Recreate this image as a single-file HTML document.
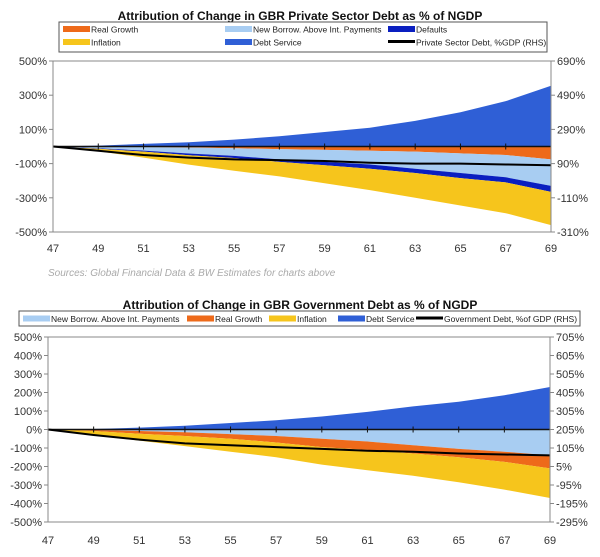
<!DOCTYPE html>
<html><head><meta charset="utf-8"><style>
body{margin:0;background:#fff;width:600px;height:557px;overflow:hidden}
svg{display:block;font-family:"Liberation Sans",Arial,sans-serif}
</style></head><body>
<svg id="s" width="600" height="557" viewBox="0 0 600 557"></svg>
<script>
const years=[47,49,51,53,55,57,59,61,63,65,67,69];
// Private sector chart components (% of NGDP, magnitudes)
const pDebtService=[0,5,15,25,40,60,85,110,150,200,265,355];
const pRealGrowth=[0,2,4,6,10,15,20,25,30,40,50,75];
const pNewBorrow=[0,8,20,35,45,60,70,80,100,115,130,155];
const pDefaults=[0,3,6,10,12,15,20,25,25,30,30,35];
const pInflation=[0,15,35,55,75,85,105,125,145,160,180,195];
const pDebtLine=[190,165,140,125,115,110,105,95,90,90,85,80]; // RHS
const pLeftTicks=[500,300,100,-100,-300,-500];
const pRightTicks=["690%","490%","290%","90%","-110%","-310%"];
// Government chart components
const gDebtService=[0,3,10,20,35,50,70,95,125,150,185,230];
const gNewBorrow=[0,3,8,15,25,35,50,65,85,105,120,140];
const gRealGrowth=[0,5,15,20,25,35,45,45,45,45,55,70];
const gInflation=[0,22,37,55,70,80,95,110,120,135,150,160];
const gDebtLine=[205,175,150,130,120,110,100,90,85,75,70,65]; // RHS
const gLeftTicks=[500,400,300,200,100,0,-100,-200,-300,-400,-500];
const gRightTicks=["705%","605%","505%","405%","305%","205%","105%","5%","-95%","-195%","-295%"];
const xLabels=["47","49","51","53","55","57","59","61","63","65","67","69"];

const svg=document.getElementById('s');
const NS='http://www.w3.org/2000/svg';
function el(tag,a,txt){const e=document.createElementNS(NS,tag);for(const k in a)e.setAttribute(k,a[k]);if(txt!==undefined)e.textContent=txt;svg.appendChild(e);return e;}

function chart(cfg){
  const {L,R,T,B,min,max,off}=cfg;
  const x=i=>L+(years[i]-47)/(69-47)*(R-L);
  const y=v=>T+(max-v)/(max-min)*(B-T);
  el('rect',{x:L,y:T,width:R-L,height:B-T,fill:'#fff'});
  function band(top,bot,color,name){
    let d='M'+x(0)+','+y(top[0]);
    for(let i=1;i<years.length;i++)d+='L'+x(i)+','+y(top[i]);
    for(let i=years.length-1;i>=0;i--)d+='L'+x(i)+','+y(bot[i]);
    const p=el('path',{d:d+'Z',fill:color});
    
    
  }
  let cum=years.map(()=>0);
  band(cfg.pos,cum,'#2f5fd6',cfg.prefix+'debt-service-area');
  cfg.neg.forEach(s=>{
    const next=cum.map((c,i)=>c-s.v[i]);
    band(cum,next,s.c,cfg.prefix+s.n);
    cum=next;
  });
  el('line',{x1:L,y1:y(0),x2:R,y2:y(0),stroke:'#111','stroke-width':1.5});
  for(let i=0;i<years.length;i++)el('line',{x1:x(i),y1:y(0)-3,x2:x(i),y2:y(0)+3,stroke:'#111','stroke-width':1});
  let d='';
  cfg.line.forEach((v,i)=>{d+=(i?'L':'M')+x(i)+','+y(v-off);});
  const ln=el('path',{d:d,fill:'none',stroke:'#000','stroke-width':2});
  
  
  el('line',{x1:L,y1:T,x2:R,y2:T,stroke:'#888'});
  el('line',{x1:L,y1:B,x2:R,y2:B,stroke:'#888'});
  el('line',{x1:L,y1:T,x2:L,y2:B,stroke:'#888'});
  el('line',{x1:R,y1:T,x2:R,y2:B,stroke:'#888'});
  cfg.lt.forEach((v,i)=>{
    const yy=y(v);
    el('line',{x1:L-4,y1:yy,x2:L,y2:yy,stroke:'#888'});
    el('line',{x1:R,y1:yy,x2:R+4,y2:yy,stroke:'#888'});
    const t=el('text',{x:L-6,y:yy+4,'text-anchor':'end','font-size':11,fill:'#333'},v+'%');
    
    
    const r=el('text',{x:R+6,y:yy+4,'font-size':11,fill:'#333'},cfg.rt[i]);
    
    
  });
  xLabels.forEach((s,i)=>{
    const t=el('text',{x:x(i),y:cfg.xl,'text-anchor':'middle','font-size':11,fill:'#333'},s);
    
    
  });
}

// Top chart
let t=el('text',{x:300,y:20,'text-anchor':'middle','font-size':12,'font-weight':'bold',fill:'#111'},'Attribution of Change in GBR Private Sector Debt as % of NGDP');

el('rect',{x:59,y:22,width:417,height:30,fill:'#fff',stroke:'#555'}).setAttribute('width',488);
function leg(x0,y0,c,label,isLine){
  if(isLine)el('rect',{x:x0,y:y0-2,width:27,height:3,fill:c});
  else el('rect',{x:x0,y:y0-3,width:27,height:6,fill:c});
  const tx=el('text',{x:x0+28,y:y0+3.5,'font-size':8.5,fill:'#222'},label);
  
  
}
leg(63,29,'#ee6a1a','Real Growth');
leg(63,42,'#f6c51c','Inflation');
leg(225,29,'#a8cdf2','New Borrow. Above Int. Payments');
leg(225,42,'#2f5fd6','Debt Service');
leg(388,29,'#0a1fc0','Defaults');
leg(388,42,'#000','Private Sector Debt, %GDP (RHS)',true);
chart({L:53,R:551,T:61,B:232,min:-500,max:500,off:190,xl:252,prefix:'private-',
  pos:pDebtService,line:pDebtLine,lt:pLeftTicks,rt:pRightTicks,
  neg:[{v:pRealGrowth,c:'#ee6a1a',n:'real-growth-area'},{v:pNewBorrow,c:'#a8cdf2',n:'new-borrow-area'},{v:pDefaults,c:'#0a1fc0',n:'defaults-area'},{v:pInflation,c:'#f6c51c',n:'inflation-area'}]});
t=el('text',{x:48,y:276,'font-size':10,'font-style':'italic',fill:'#aaa'},'Sources: Global Financial Data & BW Estimates for charts above');


// Bottom chart
t=el('text',{x:300,y:309,'text-anchor':'middle','font-size':12,'font-weight':'bold',fill:'#111'},'Attribution of Change in GBR Government Debt as % of NGDP');

el('rect',{x:19,y:311,width:561,height:15,fill:'#fff',stroke:'#555'});
leg(23,318.5,'#a8cdf2','New Borrow. Above Int. Payments');
leg(187,318.5,'#ee6a1a','Real Growth');
leg(269,318.5,'#f6c51c','Inflation');
leg(338,318.5,'#2f5fd6','Debt Service');
leg(416,318.5,'#000','Government Debt, %of GDP (RHS)',true);
chart({L:48,R:550,T:337,B:522,min:-500,max:500,off:205,xl:544,prefix:'government-',
  pos:gDebtService,line:gDebtLine,lt:gLeftTicks,rt:gRightTicks,
  neg:[{v:gNewBorrow,c:'#a8cdf2',n:'new-borrow-area'},{v:gRealGrowth,c:'#ee6a1a',n:'real-growth-area'},{v:gInflation,c:'#f6c51c',n:'inflation-area'}]});
</script>
</body></html>
